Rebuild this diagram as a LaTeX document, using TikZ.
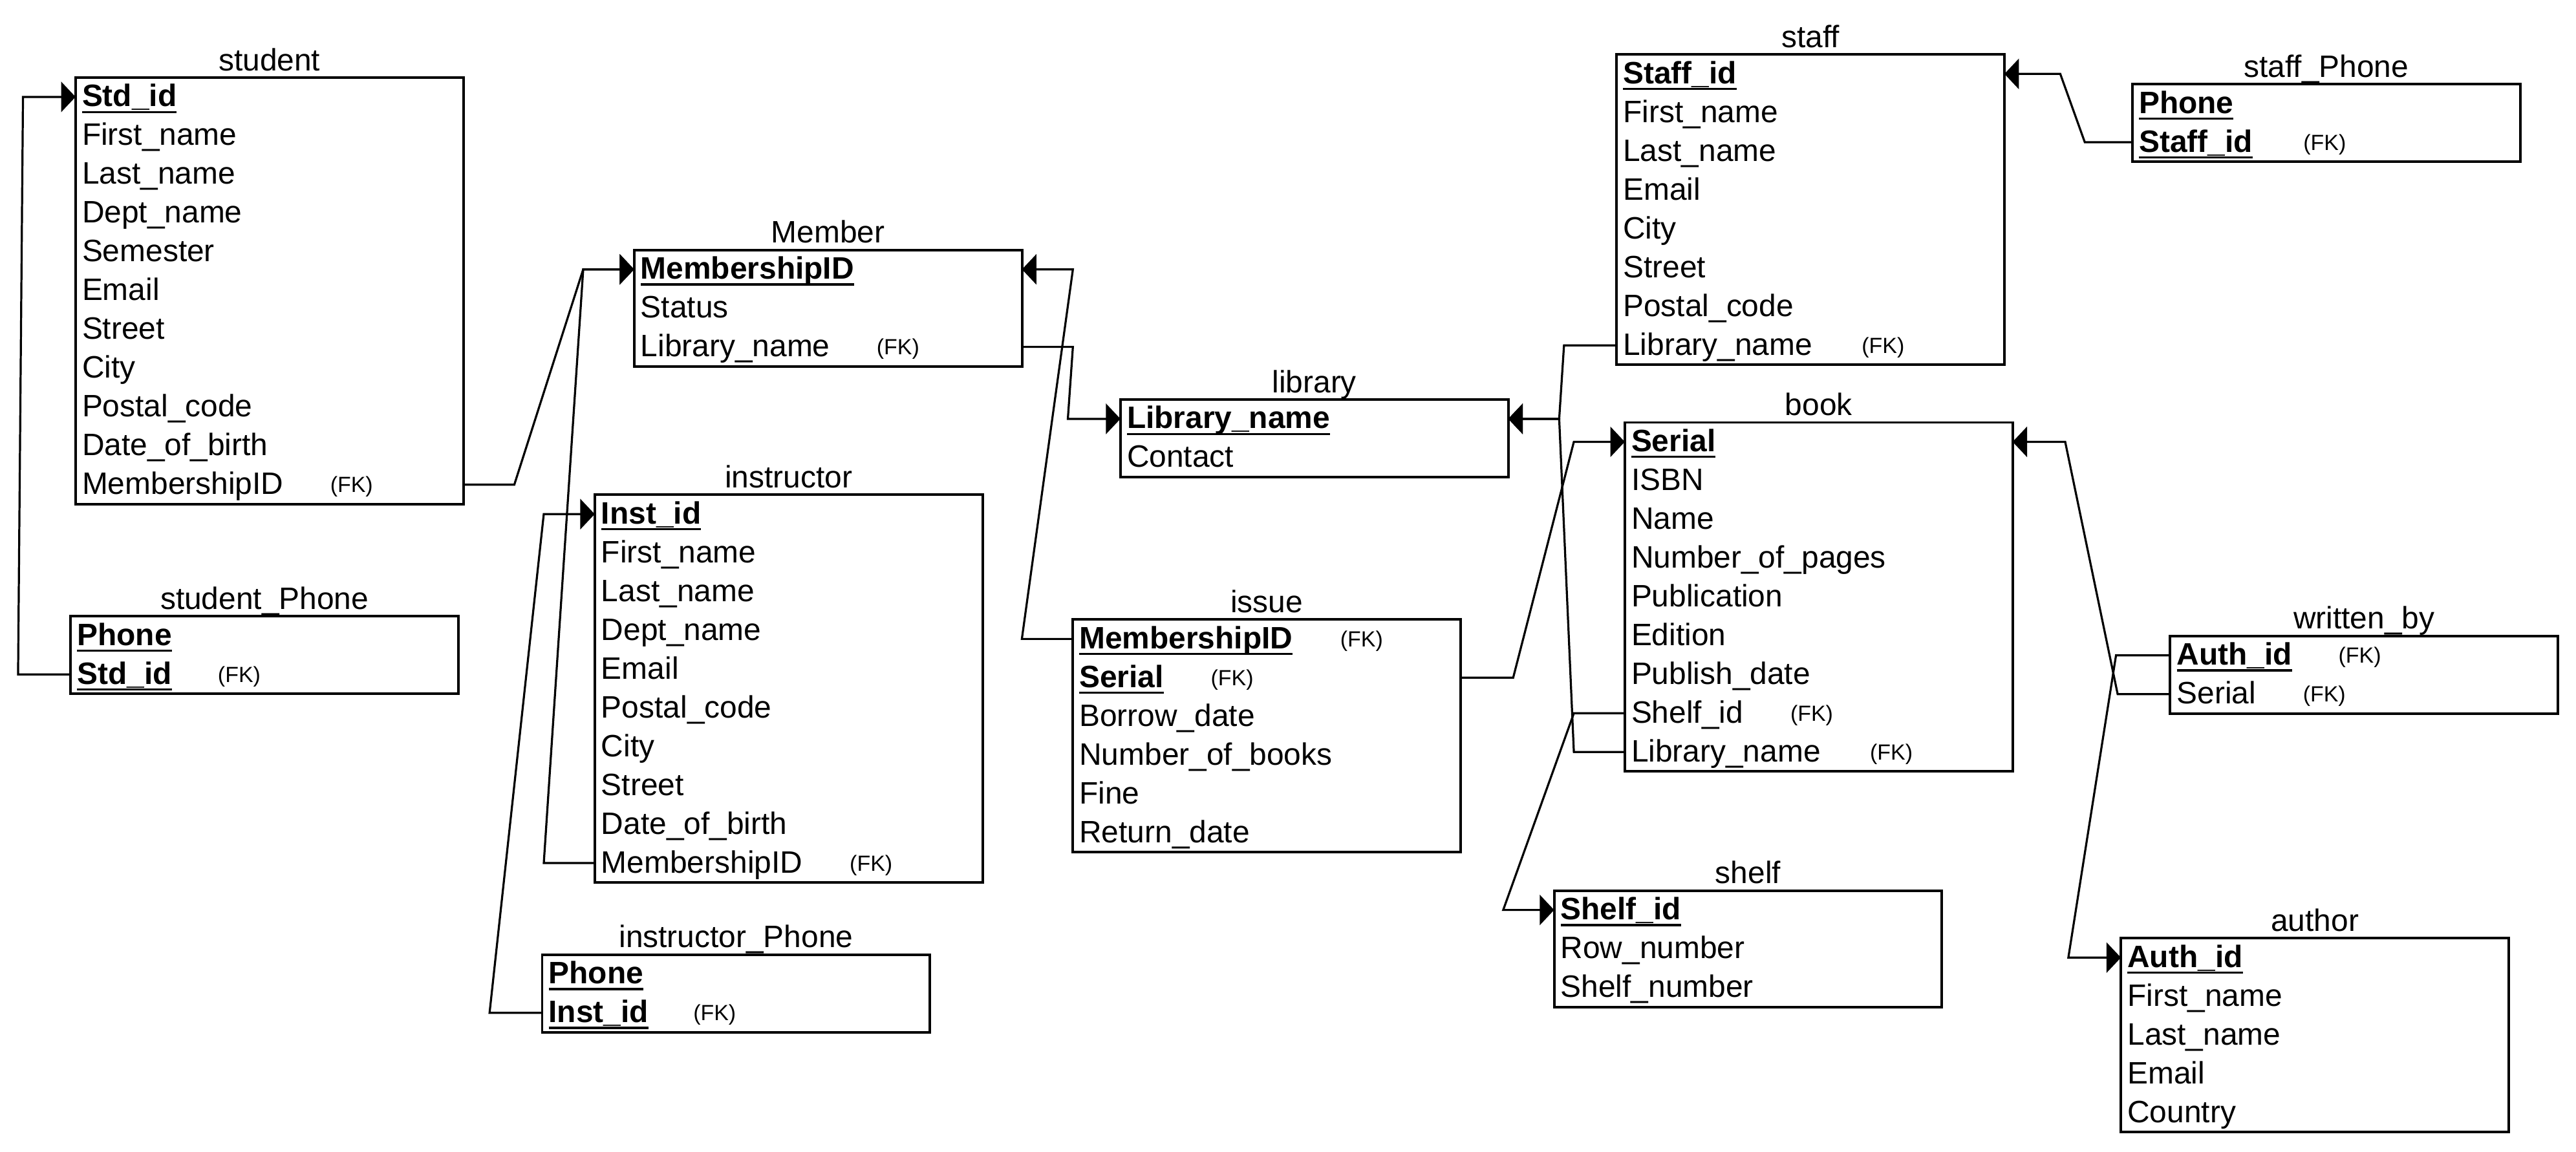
\documentclass[tikz,border=0pt]{standalone}
\usepackage{fontspec}
\setmainfont{Liberation Sans}
\usepackage{tikz}
\usetikzlibrary{positioning, fit, arrows.meta}

\newsavebox{\pkbox}
\newcommand{\pkey}[1]{\sbox\pkbox{\bfseries #1}\rlap{\rule[-2.8pt]{\wd\pkbox}{0.95pt}}\usebox\pkbox}
\newcommand{\fkey}[2]{\makebox[#1][l]{#2}\raisebox{0.8pt}{\fontsize{9.5}{11}\selectfont (FK)}}

\tikzset{
    row/.style={text width=5.7cm, inner xsep=0.1cm, inner ysep=0pt, outer sep=0pt, minimum height=0.59cm,
        text height=10.6pt, text depth=2.2pt, font=\fontsize{13.4}{16}\selectfont},
    tbl/.style={draw, line width=1.1pt, inner sep=0pt},
    ttl/.style={inner sep=0pt, text depth=0pt, font=\fontsize{13.4}{16}\selectfont},
    rel/.style={line width=0.9pt, -{Triangle[length=0.22cm, width=0.46cm]}}
}

\begin{document}
\begin{tikzpicture}[x=0.025cm, y=-0.025cm]
        \useasboundingbox (0, 0) rectangle (1568, 701);

        \node [row, anchor=west] (std1) at (46, 59) {\pkey{Std\_id}};
        \node [row, below=0pt of std1] (std2) {First\_name};
        \node [row, below=0pt of std2] (std3) {Last\_name};
        \node [row, below=0pt of std3] (std4) {Dept\_name};
        \node [row, below=0pt of std4] (std5) {Semester};
        \node [row, below=0pt of std5] (std6) {Email};
        \node [row, below=0pt of std6] (std7) {Street};
        \node [row, below=0pt of std7] (std8) {City};
        \node [row, below=0pt of std8] (std9) {Postal\_code};
        \node [row, below=0pt of std9] (std10) {Date\_of\_birth};
        \node [row, below=0pt of std10] (std11) {\fkey{3.775cm}{MembershipID}};
        \node [tbl, fit=(std1)(std11)] (student) {};
        \node [ttl, above=0.08cm of student] (stdT) {student};

        \node [row, anchor=west] (mem1) at (386, 164) {\pkey{MembershipID}};
        \node [row, below=0pt of mem1] (mem2) {Status};
        \node [row, below=0pt of mem2] (mem3) {\fkey{3.59cm}{Library\_name}};
        \node [tbl, fit=(mem1)(mem3)] (member) {};
        \node [ttl, above=0.08cm of member] (memT) {Member};

        \node [row, anchor=west] (sph1) at (43, 387) {\pkey{Phone}};
        \node [row, below=0pt of sph1] (sph2) {\fkey{2.14cm}{\pkey{Std\_id}}};
        \node [tbl, fit=(sph1)(sph2)] (sphone) {};
        \node [ttl, above=0.08cm of sphone] (sphT) {student\_Phone};

        \node [row, anchor=west] (ins1) at (362, 313) {\pkey{Inst\_id}};
        \node [row, below=0pt of ins1] (ins2) {First\_name};
        \node [row, below=0pt of ins2] (ins3) {Last\_name};
        \node [row, below=0pt of ins3] (ins4) {Dept\_name};
        \node [row, below=0pt of ins4] (ins5) {Email};
        \node [row, below=0pt of ins5] (ins6) {Postal\_code};
        \node [row, below=0pt of ins6] (ins7) {City};
        \node [row, below=0pt of ins7] (ins8) {Street};
        \node [row, below=0pt of ins8] (ins9) {Date\_of\_birth};
        \node [row, below=0pt of ins9] (ins10) {\fkey{3.78cm}{MembershipID}};
        \node [tbl, fit=(ins1)(ins10)] (instructor) {};
        \node [ttl, above=0.08cm of instructor] (insT) {instructor};

        \node [row, anchor=west] (iph1) at (330, 593) {\pkey{Phone}};
        \node [row, below=0pt of iph1] (iph2) {\fkey{2.2cm}{\pkey{Inst\_id}}};
        \node [tbl, fit=(iph1)(iph2)] (iphone) {};
        \node [ttl, above=0.08cm of iphone] (iphT) {instructor\_Phone};

        \node [row, anchor=west] (lib1) at (682, 255) {\pkey{Library\_name}};
        \node [row, below=0pt of lib1] (lib2) {Contact};
        \node [tbl, fit=(lib1)(lib2)] (library) {};
        \node [ttl, above=0.08cm of library] (libT) {library};

        \node [row, anchor=west] (iss1) at (653, 389) {\fkey{3.97cm}{\pkey{MembershipID}}};
        \node [row, below=0pt of iss1] (iss2) {\fkey{2.0cm}{\pkey{Serial}}};
        \node [row, below=0pt of iss2] (iss3) {Borrow\_date};
        \node [row, below=0pt of iss3] (iss4) {Number\_of\_books};
        \node [row, below=0pt of iss4] (iss5) {Fine};
        \node [row, below=0pt of iss5] (iss6) {Return\_date};
        \node [tbl, fit=(iss1)(iss6)] (issue) {};
        \node [ttl, above=0.08cm of issue] (issT) {issue};

        \node [row, anchor=west] (stf1) at (984, 45) {\pkey{Staff\_id}};
        \node [row, below=0pt of stf1] (stf2) {First\_name};
        \node [row, below=0pt of stf2] (stf3) {Last\_name};
        \node [row, below=0pt of stf3] (stf4) {Email};
        \node [row, below=0pt of stf4] (stf5) {City};
        \node [row, below=0pt of stf5] (stf6) {Street};
        \node [row, below=0pt of stf6] (stf7) {Postal\_code};
        \node [row, below=0pt of stf7] (stf8) {\fkey{3.63cm}{Library\_name}};
        \node [tbl, fit=(stf1)(stf8)] (staff) {};
        \node [ttl, above=0.08cm of staff] (stfT) {staff};

        \node [row, anchor=west] (sfp1) at (1298, 63) {\pkey{Phone}};
        \node [row, below=0pt of sfp1] (sfp2) {\fkey{2.5cm}{\pkey{Staff\_id}}};
        \node [tbl, fit=(sfp1)(sfp2)] (sfphone) {};
        \node [ttl, above=0.08cm of sfphone] (sfpT) {staff\_Phone};

        \node [row, anchor=west] (bk1) at (989, 269) {\pkey{Serial}};
        \node [row, below=0pt of bk1] (bk2) {ISBN};
        \node [row, below=0pt of bk2] (bk3) {Name};
        \node [row, below=0pt of bk3] (bk4) {Number\_of\_pages};
        \node [row, below=0pt of bk4] (bk5) {Publication};
        \node [row, below=0pt of bk5] (bk6) {Edition};
        \node [row, below=0pt of bk6] (bk7) {Publish\_date};
        \node [row, below=0pt of bk7] (bk8) {\fkey{2.42cm}{Shelf\_id}};
        \node [row, below=0pt of bk8] (bk9) {\fkey{3.63cm}{Library\_name}};
        \node [tbl, fit=(bk1)(bk9)] (book) {};
        \node [ttl, above=0.08cm of book] (bkT) {book};

        \node [row, anchor=west] (shf1) at (946, 554) {\pkey{Shelf\_id}};
        \node [row, below=0pt of shf1] (shf2) {Row\_number};
        \node [row, below=0pt of shf2] (shf3) {Shelf\_number};
        \node [tbl, fit=(shf1)(shf3)] (shelf) {};
        \node [ttl, above=0.08cm of shelf] (shfT) {shelf};

        \node [row, anchor=west] (wrb1) at (1321, 399) {\fkey{2.46cm}{\pkey{Auth\_id}}};
        \node [row, below=0pt of wrb1] (wrb2) {\fkey{1.92cm}{Serial}};
        \node [tbl, fit=(wrb1)(wrb2)] (writtenby) {};
        \node [ttl, above=0.08cm of writtenby] (wrbT) {written\_by};

        \node [row, anchor=west] (au1) at (1291, 583) {\pkey{Auth\_id}};
        \node [row, below=0pt of au1] (au2) {First\_name};
        \node [row, below=0pt of au2] (au3) {Last\_name};
        \node [row, below=0pt of au3] (au4) {Email};
        \node [row, below=0pt of au4] (au5) {Country};
        \node [tbl, fit=(au1)(au5)] (author) {};
        \node [ttl, above=0.08cm of author] (auT) {author};

        \draw [rel] (sph2.west) -- ++(-32, 0) -- ([xshift=-0.8cm] std1.west) -- (std1.west);
        \draw [rel] (std11.east) -- ++(31, 0) -- ([xshift=-0.775cm] mem1.west) -- (mem1.west);
        \draw [rel] (ins10.west) -- ++(-31, 0) -- ([xshift=-0.775cm] mem1.west) -- (mem1.west);
        \draw [rel] (iph2.west) -- ++(-32, 0) -- ([xshift=-0.775cm] ins1.west) -- (ins1.west);
        \draw [rel] (iss1.west) -- ++(-31, 0) -- ([xshift=0.775cm] mem1.east) -- (mem1.east);
        \draw [rel] (mem3.east) -- ++(31, 0) -- ([xshift=-0.8cm] lib1.west) -- (lib1.west);
        \draw [rel] (stf8.west) -- ++(-32, 0) -- ([xshift=0.775cm] lib1.east) -- (lib1.east);
        \draw [rel] (bk9.west) -- ++(-31, 0) -- ([xshift=0.775cm] lib1.east) -- (lib1.east);
        \draw [rel] (iss2.east) -- ++(32, 0) -- ([xshift=-0.775cm] bk1.west) -- (bk1.west);
        \draw [rel] (bk8.west) -- ++(-31, 0) -- ([xshift=-0.775cm] shf1.west) -- (shf1.west);
        \draw [rel] (sfp2.west) -- ++(-29, 0) -- ([xshift=0.85cm] stf1.east) -- (stf1.east);
        \draw [rel] (wrb1.west) -- ++(-33, 0) -- ([xshift=-0.8cm] au1.west) -- (au1.west);
        \draw [rel] (wrb2.west) -- ++(-32, 0) -- ([xshift=0.8cm] bk1.east) -- (bk1.east);
\end{tikzpicture}
\end{document}
